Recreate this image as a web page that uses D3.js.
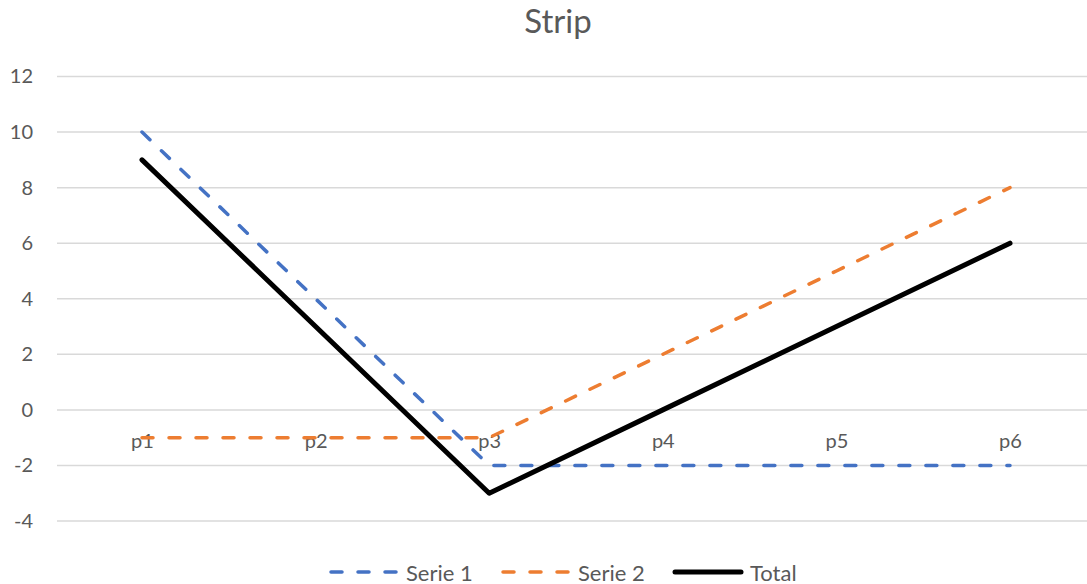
<!DOCTYPE html>
<html>
<head>
<meta charset="utf-8">
<script src="https://cdn.jsdelivr.net/npm/d3@7"></script>
<style>
  html, body { margin: 0; padding: 0; background: #fff; }
  svg { display: block; font-family: Lato, "Open Sans", sans-serif; }
</style>
</head>
<body>
<svg id="chart" width="1087" height="584"></svg>
<script>
const categories = ["p1", "p2", "p3", "p4", "p5", "p6"];
const serie1 = [10, 4, -2, -2, -2, -2];
const serie2 = [-1, -1, -1, 2, 5, 8];
const total  = [9, 3, -3, 0, 3, 6];
const yTicks = [-4, -2, 0, 2, 4, 6, 8, 10, 12];

const series = [
  { name: "Serie 1", values: serie1, color: "#4472C4", width: 3.5, dash: "11,16" },
  { name: "Serie 2", values: serie2, color: "#ED7D31", width: 3.5, dash: "11,16" },
  { name: "Total",   values: total,  color: "#000000", width: 5,   dash: null }
];

const svg = d3.select("#chart");
const textColor = "#595959";
const font = "Lato, 'Open Sans', sans-serif";

const x = d3.scalePoint().domain(categories).range([142, 1010]);
const y = d3.scaleLinear().domain([-4, 12]).range([521, 76.5]);

// Title
svg.append("text")
  .attr("x", 558).attr("y", 33)
  .attr("text-anchor", "middle")
  .attr("font-size", 33)
  .attr("fill", textColor)
  .text("Strip");

// Horizontal gridlines
svg.append("g")
  .selectAll("line")
  .data(yTicks)
  .join("line")
  .attr("x1", 57).attr("x2", 1087)
  .attr("y1", d => y(d)).attr("y2", d => y(d))
  .attr("stroke", "#d9d9d9")
  .attr("stroke-width", 1.5);

// Y axis labels (plain hyphen for negatives)
const yAxis = d3.axisLeft(y).tickValues(yTicks).tickSize(0).tickPadding(0)
  .tickFormat(d => String(d));
const yg = svg.append("g").attr("transform", "translate(33,0)").call(yAxis);
yg.select(".domain").remove();
yg.selectAll("text").attr("font-size", 20).attr("fill", textColor).attr("font-family", font);

// Category labels, sitting below the zero line
const xAxis = d3.axisBottom(x).tickSize(0).tickPadding(0);
const xg = svg.append("g").attr("transform", `translate(0,${y(0) + 24})`).call(xAxis);
xg.select(".domain").remove();
xg.selectAll("text").attr("font-size", 20).attr("fill", textColor).attr("font-family", font);

// Series lines
const line = d3.line().x((d, i) => x(categories[i])).y(d => y(d));
svg.append("g")
  .selectAll("path")
  .data(series)
  .join("path")
  .attr("d", d => line(d.values))
  .attr("fill", "none")
  .attr("stroke", d => d.color)
  .attr("stroke-width", d => d.width)
  .attr("stroke-dasharray", d => d.dash)
  .attr("stroke-linecap", "round")
  .attr("stroke-linejoin", "round");

// Legend
const legendX = [331, 503, 675];
const legend = svg.append("g")
  .selectAll("g")
  .data(series)
  .join("g")
  .attr("transform", (d, i) => `translate(${legendX[i]},572)`);
legend.append("line")
  .attr("x1", 0).attr("x2", 66)
  .attr("stroke", d => d.color)
  .attr("stroke-width", d => d.width)
  .attr("stroke-dasharray", d => d.dash)
  .attr("stroke-linecap", "round");
legend.append("text")
  .attr("x", 75).attr("y", 8.5)
  .attr("font-size", 22)
  .attr("fill", textColor)
  .text(d => d.name);
</script>
</body>
</html>
